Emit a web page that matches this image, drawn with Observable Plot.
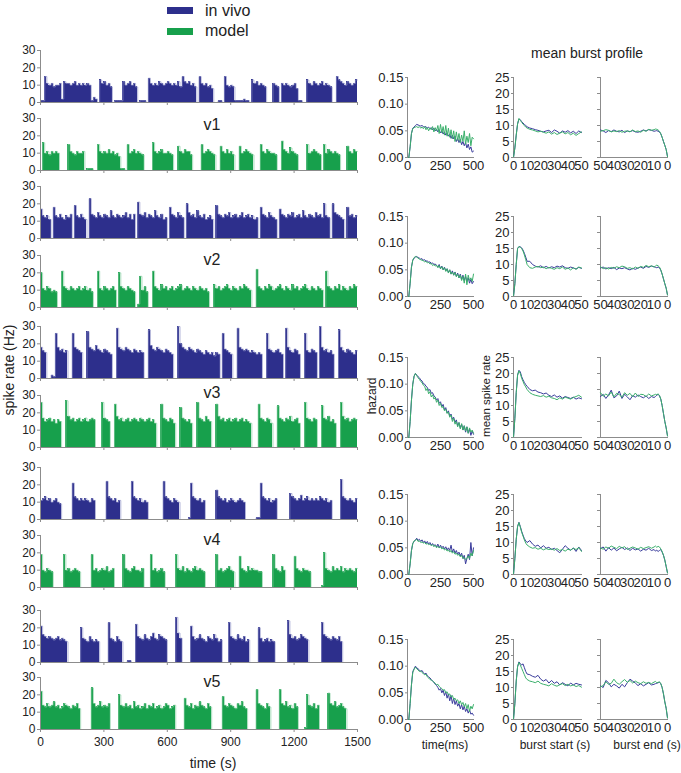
<!DOCTYPE html>
<html><head><meta charset="utf-8">
<script src="https://cdn.jsdelivr.net/npm/d3@7"></script>
<script src="https://cdn.jsdelivr.net/npm/@observablehq/plot@0.6"></script>
<style>
body{margin:0;background:#fff;}
#fig{position:relative;width:681px;height:773px;overflow:hidden;font-family:"Liberation Sans",Arial,sans-serif;color:#222;}
#fig svg{position:absolute;}
</style></head><body><div id="fig"></div>
<script>
// ---------- data: spike-rate time series, 10 s bins, 0..1500 s ----------
const BIN = 10;
const vivo1 = [
1,1,15,11,10,11,9,10,10,11, 2,12,11,11,10,11,12,10,11,10, 11,10,11,10,1,3,2,0,13,11,
12,10,11,9,0,1,1,1,1,12, 10,11,12,10,11,9,0,1,1,1, 0,14,11,10,11,10,12,11,10,11,
12,11,10,11,10,12,9,15,12,11, 12,10,11,9,0,15,11,10,11,9, 10,8,0,0,1,1,0,15,10,9,
10,9,1,1,1,1,2,1,1,0, 13,11,12,10,11,10,9,0,0,0, 11,10,9,0,11,10,11,10,9,10,
11,8,1,1,0,0,13,11,10,12, 11,10,11,12,10,11,10,9,0,0, 15,13,12,11,10,12,11,10,11,13];
const model1 = [
0,16,10,11,9,11,10,11,10,0, 0,0,0,15,11,10,9,11,10,10, 11,0,1,1,1,0,0,15,11,10,
11,10,12,10,11,9,10,8,1,1, 0,15,10,11,12,10,11,10,9,0, 0,0,0,16,11,10,11,12,10,10,
11,10,9,0,0,14,11,10,12,11, 11,9,0,0,0,0,15,10,11,12, 11,10,9,0,0,14,11,10,12,10,
11,9,0,0,14,10,11,12,11,10, 9,0,0,0,15,11,10,12,11,10, 10,9,0,0,17,12,11,10,13,11,
10,9,0,0,0,0,15,10,11,12, 11,10,9,0,15,10,12,11,10,11, 10,9,0,0,0,14,11,10,12,11];
const vivo2 = [
17,13,12,13,11,0,18,13,12,14, 12,11,13,12,14,0,19,13,12,14, 12,11,0,23,14,13,12,15,13,12,
14,13,12,16,13,12,14,13,12,13, 15,12,14,11,14,0,21,14,13,15, 12,14,13,12,16,13,12,14,11,12,
0,18,14,13,12,15,13,12,0,20, 15,13,14,12,16,13,12,14,11,12, 13,11,0,19,14,13,12,14,13,15,
12,13,14,12,13,15,12,13,14,12, 13,11,12,0,18,14,13,12,15,13, 12,11,0,17,14,13,12,14,13,15,
12,13,14,12,16,13,12,14,13,12, 15,13,14,12,20,13,12,0,20,15, 14,13,12,11,0,18,13,14,12,13];
const model2 = [
20,11,10,12,11,9,10,9,0,0, 21,12,11,10,12,11,10,11,12,10, 11,12,10,11,9,0,0,21,11,10,
12,11,10,11,12,10,0,20,12,11, 10,12,11,10,9,0,2,18,10,12, 9,0,0,21,12,11,10,13,11,12,
10,11,12,10,11,12,13,10,11,12, 11,10,12,11,10,12,11,10,11,9, 0,0,13,11,12,10,11,12,13,11,
10,12,11,10,12,11,13,12,11,10, 0,0,22,12,11,10,12,11,13,12, 10,11,12,13,11,10,12,11,10,13,
11,12,10,11,12,13,11,10,12,11, 10,12,11,10,0,21,12,11,10,12, 11,13,10,12,11,10,12,11,13,12];
const vivo3 = [
18,16,15,0,0,2,1,26,18,16, 17,15,16,0,0,26,18,17,16,15, 0,0,27,18,17,16,19,17,16,15,
17,16,15,14,0,0,29,18,17,16, 18,17,16,15,17,16,15,16,15,0, 0,28,19,17,16,18,17,16,15,17,
16,15,14,0,0,30,20,18,17,16, 18,17,16,15,17,16,15,14,16,15, 14,15,13,15,14,0,26,17,16,15,
14,0,0,29,18,17,16,17,16,15, 16,15,14,15,14,0,0,26,17,16, 15,16,17,15,14,0,29,18,16,15,
17,16,14,0,0,26,16,15,17,16, 15,0,30,18,16,17,15,16,14,0, 0,28,18,16,15,17,16,15,14,16];
const model3 = [
26,17,15,16,17,15,16,14,16,15, 0,0,27,18,16,17,15,16,17,15, 16,17,15,16,17,16,0,0,0,26,
17,16,15,0,0,25,18,16,17,15, 16,17,15,16,17,16,15,17,16,15, 16,17,15,16,14,0,0,25,17,16,
15,17,16,14,0,0,23,17,16,15, 16,14,0,0,26,17,16,15,18,16, 15,0,0,25,18,16,17,15,16,17,
15,16,17,15,16,17,15,16,15,14, 0,0,0,25,17,16,15,17,16,14, 0,0,24,17,16,15,17,16,18,15,
16,17,14,0,0,26,17,16,15,17, 16,0,0,24,17,16,18,15,16,14, 0,0,26,18,16,17,15,16,17,16];
const vivo4 = [
11,12,13,11,12,10,11,12,10,9, 0,0,0,0,0,21,13,12,11,12, 11,12,11,10,12,11,0,0,0,0,
0,22,13,12,11,12,10,11,0,0, 0,0,0,22,13,12,11,12,10,11, 10,0,0,0,0,0,0,0,22,13,
12,11,10,12,11,10,0,0,0,0, 1,21,13,12,11,12,10,11,0,0, 0,0,0,17,13,12,11,12,10,11,
12,11,10,11,12,11,10,0,0,0, 0,0,1,1,21,13,12,11,12,10, 11,12,0,0,0,0,0,0,15,13,
12,11,12,14,11,12,13,11,12,11, 12,11,13,12,11,12,10,11,0,0, 0,0,23,13,12,11,12,11,10,12];
const model4 = [
19,10,9,11,10,9,0,0,0,0, 0,19,10,11,9,10,11,10,9,0, 0,0,0,0,19,10,11,9,10,11,
10,12,9,10,11,0,0,0,0,19, 11,10,9,11,12,10,10,9,11,0, 0,0,19,10,11,9,10,11,9,0,
0,0,0,0,19,11,10,12,9,11, 10,9,11,12,10,11,10,9,0,0, 0,0,0,19,10,11,9,10,11,12,
10,9,0,0,18,11,10,9,12,10, 11,10,10,9,9,0,0,0,0,0, 19,11,10,9,12,10,0,0,0,0,
18,11,10,9,11,10,10,9,0,0, 0,0,0,1,20,11,10,9,12,10, 11,10,12,9,11,10,11,10,9,11];
const vivo5 = [
21,16,15,14,15,14,13,14,15,13, 14,13,12,0,0,0,0,0,0,20, 14,13,12,15,13,12,13,12,0,0,
0,0,23,14,13,12,15,13,12,0, 0,1,1,0,0,22,15,14,13,16, 14,13,15,17,14,13,16,15,14,13,
0,0,0,0,26,17,14,0,0,0, 0,21,15,13,14,16,14,13,12,15, 14,13,16,14,12,13,0,0,0,23,
15,14,13,16,14,13,15,12,13,0, 0,0,0,20,14,12,13,14,12,13, 12,0,0,0,0,0,0,24,16,14,
15,13,14,16,15,14,13,0,0,0, 0,0,0,23,16,15,14,13,15,14, 13,15,12,0,0,0,0,0,0,0];
const model5 = [
22,14,13,15,13,14,16,13,14,12, 13,15,14,13,12,14,13,15,12,0, 0,0,0,0,24,15,13,14,16,13,
14,13,15,0,0,0,0,20,14,13, 15,13,14,12,16,13,14,12,13,15, 12,14,13,15,12,13,14,12,13,15,
14,12,13,14,0,0,0,0,18,14, 13,15,12,14,13,16,14,13,12,15, 13,0,0,0,0,0,19,14,13,15,
14,13,12,15,14,16,13,12,0,0, 0,0,23,15,14,13,12,15,13,0, 0,0,0,23,15,14,16,13,14,12,
15,13,0,0,0,1,20,14,13,15, 12,14,0,0,0,0,21,15,14,16, 13,14,15,13,12,0,0,0,0,0];

// ---------- hazard (per 10 ms, 0..500 ms) ----------
const hazTime = [0,10,20,30,40,50,60,70,80,90,100,110,120,130,140,150,160,170,180,190,200,210,220,230,240,250,260,270,280,290,300,310,320,330,340,350,360,370,380,390,400,410,420,430,440,450,460,470,480,490,500];
const hazVivo1 = [0,0,0.02,0.045,0.055,0.057,0.06,0.062,0.061,0.06, 0.059,0.06,0.058,0.057,0.058,0.055,0.057,0.054,0.056,0.052, 0.055,0.05,0.053,0.048,0.052,0.046,0.05,0.044,0.048,0.042, 0.046,0.04,0.044,0.036,0.042,0.035,0.04,0.03,0.036,0.028, 0.034,0.024,0.03,0.022,0.028,0.018,0.025,0.015,0.02,0.01, 0.012];
const hazModel1 = [0,0,0.02,0.045,0.054,0.056,0.057,0.058,0.056,0.058, 0.055,0.057,0.054,0.058,0.052,0.056,0.05,0.055,0.052,0.058, 0.048,0.056,0.05,0.06,0.045,0.062,0.046,0.058,0.042,0.06, 0.04,0.055,0.038,0.052,0.035,0.05,0.03,0.048,0.032,0.045, 0.028,0.042,0.03,0.05,0.025,0.04,0.028,0.045,0.022,0.038, 0.035];
const hazVivo2 = [0,0,0.025,0.055,0.068,0.072,0.074,0.075,0.073,0.072, 0.07,0.071,0.068,0.069,0.066,0.067,0.064,0.065,0.062,0.063, 0.06,0.061,0.058,0.055,0.06,0.052,0.057,0.05,0.055,0.048, 0.052,0.045,0.05,0.042,0.048,0.04,0.046,0.038,0.044,0.035, 0.042,0.032,0.04,0.03,0.038,0.028,0.035,0.025,0.032,0.024, 0.028];
const hazModel2 = [0,0,0.025,0.055,0.068,0.073,0.075,0.074,0.072,0.07, 0.069,0.068,0.067,0.065,0.066,0.063,0.064,0.061,0.062,0.058, 0.06,0.057,0.059,0.054,0.058,0.052,0.056,0.05,0.054,0.047, 0.052,0.044,0.05,0.042,0.046,0.04,0.045,0.037,0.042,0.035, 0.04,0.03,0.038,0.025,0.042,0.022,0.04,0.03,0.035,0.028, 0.042];
const hazVivo3 = [0,0,0.03,0.07,0.1,0.115,0.12,0.117,0.114,0.112, 0.108,0.106,0.101,0.1,0.096,0.094,0.088,0.09,0.083,0.084, 0.078,0.076,0.07,0.073,0.064,0.067,0.058,0.062,0.052,0.056, 0.046,0.05,0.04,0.044,0.034,0.038,0.028,0.033,0.022,0.028, 0.018,0.025,0.014,0.022,0.01,0.02,0.008,0.016,0.004,0.012, 0.006];
const hazModel3 = [0,0,0.03,0.07,0.1,0.115,0.12,0.116,0.112,0.109, 0.105,0.103,0.098,0.096,0.088,0.092,0.082,0.086,0.076,0.08, 0.072,0.075,0.066,0.07,0.06,0.064,0.056,0.058,0.05,0.053, 0.045,0.048,0.038,0.042,0.03,0.036,0.025,0.03,0.02,0.028, 0.016,0.026,0.014,0.022,0.012,0.02,0.008,0.018,0.01,0.014, 0.008];
const hazVivo4 = [0,0,0.02,0.045,0.058,0.062,0.065,0.068,0.064,0.066, 0.062,0.065,0.06,0.063,0.058,0.062,0.057,0.06,0.055,0.058, 0.054,0.056,0.052,0.057,0.05,0.055,0.05,0.053,0.048,0.052, 0.046,0.05,0.045,0.055,0.042,0.048,0.04,0.045,0.038,0.042, 0.035,0.04,0.03,0.036,0.02,0.03,0.038,0.028,0.06,0.035, 0.05];
const hazModel4 = [0,0,0.02,0.045,0.058,0.063,0.064,0.066,0.062,0.063, 0.06,0.061,0.059,0.06,0.057,0.058,0.056,0.057,0.054,0.056, 0.052,0.055,0.05,0.053,0.05,0.052,0.048,0.05,0.046,0.048, 0.044,0.046,0.042,0.045,0.04,0.043,0.038,0.04,0.036,0.038, 0.033,0.036,0.03,0.032,0.028,0.03,0.035,0.03,0.04,0.035, 0.045];
const hazVivo5 = [0,0,0.03,0.065,0.09,0.095,0.1,0.097,0.095,0.093, 0.09,0.092,0.088,0.085,0.087,0.082,0.08,0.078,0.075,0.072, 0.07,0.066,0.064,0.06,0.055,0.058,0.05,0.055,0.045,0.052, 0.04,0.048,0.035,0.045,0.03,0.04,0.028,0.035,0.025,0.03, 0.02,0.028,0.018,0.025,0.015,0.02,0.012,0.018,0.01,0.012, 0.008];
const hazModel5 = [0,0,0.03,0.065,0.088,0.094,0.098,0.095,0.093,0.09, 0.091,0.088,0.086,0.084,0.085,0.08,0.078,0.075,0.074,0.072, 0.07,0.068,0.065,0.066,0.062,0.06,0.058,0.055,0.056,0.05, 0.052,0.046,0.048,0.042,0.045,0.038,0.04,0.035,0.037,0.03, 0.035,0.028,0.032,0.024,0.03,0.02,0.028,0.015,0.025,0.02, 0.028];

// ---------- mean burst profile (s from burst start / before burst end) ----------
const profTime = [0,1,2,3,4,5,6,7,8,9,10,12,14,16,18,20,22,24,26,28,30,32,34,36,38,40,42,44,46,48,50];
const startVivo1 = [0,3,7,10.5,12,11.8,11.2,10.8,10.3,10,9.6, 9.2,9,8.7,8.5,8.2,8,8.3,8.5,7.8,8.6,8.2,7.6,8.3,7.9,8.4,7.7,8.2,7.5,8.3,7.8];
const startModel1 = [0,3,7,10.5,12.2,11.6,11,10.4,10,9.5,9.2, 8.8,8.6,8.3,8,8.2,7.9,7.6,8,7.3,7.8,7.2,7.6,8,7.4,7.8,7.1,7.6,6.9,7.5,8];
const endVivo1 = [0.3,2.5,3.8,5,6.3,7.4,8,8.2,8.4,8.3,8.2, 8.5,8.7,8.3,8.6,8.2,7.9,8,8.4,8.1,8.3,7.8,8.5,8,8.2,8.6,8.1,8.4,7.8,8.3,8.6];
const endModel1 = [0.3,2.5,3.8,5,6.3,7.4,8.2,8.6,8.8,8.9,8.7, 8.5,8.8,8.2,8.5,7.9,8.3,8.1,8.6,8,8.3,8.2,7.9,8.4,8.1,8.3,8,8.5,8.7,8.4,8.2];
const startVivo2 = [0,4,10,15,15.6,15.5,15.2,14.5,13.5,12.3,11, 11,10,9.5,9.2,9.6,9,9.4,8.9,9.3,9,9.5,9.2,9.6,9,8.8,9.2,8.9,8.6,9.1,8.8];
const startModel2 = [0,4,10,15,15.6,15.4,15,14.2,13,11.5,10, 9,8.8,9.2,9.4,9,9.2,8.7,9.1,8.8,8.5,9,8.7,9.2,8.5,8.9,8.3,9,8.5,9.2,8.9];
const endVivo2 = [0.5,2.6,4,5.5,7,8.2,9,9.2,9,9.1,9.3, 9.5,9.1,9.4,8.8,9.2,8.9,8.5,8.8,8.3,8.6,9,8.7,8.9,8.4,9.1,8.7,9,8.6,9.2,8.9];
const endModel2 = [0.5,2.6,4,5.5,7,8.3,9.2,9.6,9.8,9.5,9.2, 9.6,9.3,9.7,9.1,9.4,8.8,9.2,8.6,9,8.8,9.3,9.5,9,9.3,8.8,9.1,8.6,9,8.7,9.3];
const startVivo3 = [0,6,14,19.5,21,20.5,19,18,17.2,16.5,16, 15,14.6,14.8,14.2,14,13.6,13.9,13.2,12.8,13.3,12.6,13,12.3,12.8,12.5,12.2,12.6,12,12.4,12.1];
const startModel3 = [0,6,14,19.5,20.8,20,18.5,17.5,16.5,15.8,15, 14,13.5,13.2,13,12.8,13.1,12.6,12.9,12.4,12.2,11.8,12.4,12,12.6,12.3,12,12.5,12.8,13.2,12.6];
const endVivo3 = [0.5,3,5,7.5,10,12,13,13.5,13.2,12.8,12.5, 12.8,12.2,13,12.4,12.8,13.3,12.6,13.1,11.8,12.7,13.5,12.2,14.5,13,12.4,14.8,13.3,12.2,13.5,12.8];
const endModel3 = [0.5,3,5,7.5,10,12,13.2,13.6,13.4,13.5,13.3, 13,13.6,12.8,13.4,13.5,12.8,13.9,12.7,13.8,13.2,14,12.6,13.4,13.8,12.7,14.2,13,13.6,12.9,14];
const startVivo4 = [0,5,11,15,16.3,15,13.5,12.3,11.2,10.5,10, 10.6,9.5,8.8,9.2,8.3,9,8.2,8.5,7.8,8.2,7.5,6.8,7.9,9,8.2,7.6,8.3,7.2,8.6,7.5];
const startModel4 = [0,5,11,15,16.2,14.8,13.2,12,10.8,9.8,9.2, 8.6,8.2,8.4,7.9,8.2,7.7,8.1,7.8,8,7.6,8.1,7.5,7.8,7.3,7.9,7.6,8.2,7.8,8.4,7.2];
const endVivo4 = [0.5,2.5,4.5,6,7,7.8,7.5,7.2,7.6,7.3,7.8, 7.5,8.2,7.6,7.9,7.3,8,7.7,8.2,7.5,8.3,7.8,8.5,8,7.4,8.3,7.6,8.4,7.3,8.6,8.1];
const endModel4 = [0.5,2.5,4.5,6,7.2,8,8.6,8.8,8.5,8.9,8.6, 8.2,8.7,8.4,8.1,8.5,7.9,8.3,8.6,8.2,7.8,8.7,8.3,8.8,8.1,8.5,8.9,8.2,8.6,7.9,8.3];
const startVivo5 = [0,5,12,16.5,18,17.5,17,17.4,16.2,15,14.2, 14,13.5,13.2,13.8,12.6,12,12.5,11.4,12.2,11.3,11.8,10.8,11.5,11,10.5,11.4,10.8,11.3,11,10.8];
const startModel5 = [0,5,12,16.5,17.8,17,16,15,14,13,12.5, 12,11.8,11.5,12,11.3,11,10.8,10.5,11.2,10.7,10.4,10.9,11.2,10.6,11,10.5,10.8,10.3,10.6,10.1];
const endVivo5 = [0.5,3.5,5.5,8,10,11.2,11.6,11.5,11.3,11.2,11, 10.8,11.5,11,10.5,11.2,10.6,11.4,12,12.6,11.5,10.2,11,9.8,10.5,11,10.2,11.5,12.2,10,10.5];
const endModel5 = [0.5,3.5,5.5,8,10,11.2,11.8,11.6,11.5,11.9,11.7, 11.2,11.6,11.3,11.8,11.2,11.5,12,11.4,12.2,11.6,12.5,11.8,11,11.5,12.6,11.3,11,11.8,10.6,10.2];

const versionLabels = ["v1","v2","v3","v4","v5"];
const rateTicks = [0,10,20,30];
const timeTicks = [0,300,600,900,1200,1500];
const hazTicks = [0,0.05,0.10,0.15];
const hazXTicks = [0,250,500];
const profYTicks = [0,5,10,15,20,25];
const profXTicks = [0,10,20,30,40,50];

// ---------- styling / layout ----------
const BLUE = "#2d2f8c", GREEN = "#17a04c", BLUE_EDGE = "#8e90c6", GREEN_EDGE = "#7fcc9c";
const LBLUE = "#3a3c9c", LGREEN = "#3bb06c", AX = "#8c8c8c";
const fig = document.getElementById("fig");
const FONT = '"Liberation Sans", Arial, sans-serif';
function place(node, left, top) { node.style.left = left + "px"; node.style.top = top + "px"; fig.appendChild(node); }
function style(fs) { return {fontFamily: FONT, fontSize: fs + "px", color: "#222", background: "none", overflow: "visible"}; }

const rateTops = [50,118,186,255,326,395,467,535,610,677];
function ratePanel(vals, color, edge, top, bottom) {
  const data = vals.map((v, i) => ({t0: i * BIN, t1: (i + 1) * BIN, v}));
  const stepPts = vals.map((v, i) => ({t: i * BIN, v})).concat([{t: vals.length * BIN, v: vals[vals.length - 1]}]);
  const mt = 4, h = 52, mb = bottom ? 24 : 6;
  const svg = Plot.plot({
    width: 362, height: mt + h + mb, marginLeft: 40, marginRight: 5, marginTop: mt, marginBottom: mb,
    style: style(12),
    x: {domain: [0, 1500], label: null}, y: {domain: [0, 30], label: null},
    marks: [
      Plot.rectY(data, {x1: "t0", x2: "t1", y: "v", fill: color, shapeRendering: "crispEdges"}),
      Plot.line(stepPts, {x: "t", y: "v", curve: "step-after", stroke: edge, strokeWidth: 0.7}),
      Plot.ruleY([0], {stroke: AX}),
      Plot.ruleX([0], {stroke: AX}),
      Plot.axisY({ticks: rateTicks, tickSize: 3, tickPadding: 2, stroke: AX, label: null}),
      Plot.axisX({ticks: timeTicks, tickSize: 3, tickPadding: 5, stroke: AX, label: null,
                  tickFormat: bottom ? (d => String(d)) : (() => "")})
    ]
  });
  place(svg, 0, top - mt);
}
const vivo = [vivo1, vivo2, vivo3, vivo4, vivo5];
const model = [model1, model2, model3, model4, model5];
for (let k = 0; k < 5; k++) {
  ratePanel(vivo[k], BLUE, BLUE_EDGE, rateTops[2 * k], false);
  ratePanel(model[k], GREEN, GREEN_EDGE, rateTops[2 * k + 1], k === 4);
}

const rowTops = [77, 216, 357, 494, 639];
const H = 80;
function hazPanel(bl, gr, top) {
  const mt = 6, mb = 20;
  const svg = Plot.plot({
    width: 120, height: mt + H + mb, marginLeft: 40, marginRight: 14, marginTop: mt, marginBottom: mb,
    style: style(13),
    x: {domain: [0, 500], label: null}, y: {domain: [0, 0.15], label: null},
    marks: [
      Plot.ruleY([0], {stroke: AX}), Plot.ruleX([0], {stroke: AX}),
      Plot.line(bl.map((v, i) => ({t: hazTime[i], v})), {x: "t", y: "v", stroke: LBLUE, strokeWidth: 1}),
      Plot.line(gr.map((v, i) => ({t: hazTime[i], v})), {x: "t", y: "v", stroke: LGREEN, strokeWidth: 1}),
      Plot.axisY({ticks: hazTicks, tickFormat: d3.format(".2f"), tickSize: 2, tickPadding: 2, stroke: AX, label: null}),
      Plot.axisX({ticks: hazXTicks, tickSize: 1, tickPadding: 2, stroke: AX, label: null})
    ]
  });
  place(svg, 407 - 40, top - mt);
}
function startPanel(bl, gr, top) {
  const mt = 6, mb = 20;
  const svg = Plot.plot({
    width: 116, height: mt + H + mb, marginLeft: 36, marginRight: 12, marginTop: mt, marginBottom: mb,
    style: style(13),
    x: {domain: [0, 50], label: null}, y: {domain: [0, 25], label: null},
    marks: [
      Plot.ruleY([0], {stroke: AX}), Plot.ruleX([0], {stroke: AX}),
      Plot.line(bl.map((v, i) => ({t: profTime[i], v})), {x: "t", y: "v", stroke: LBLUE, strokeWidth: 1}),
      Plot.line(gr.map((v, i) => ({t: profTime[i], v})), {x: "t", y: "v", stroke: LGREEN, strokeWidth: 1}),
      Plot.axisY({ticks: profYTicks, tickSize: 2, tickPadding: 2, stroke: AX, label: null}),
      Plot.axisX({ticks: profXTicks, tickSize: 1, tickPadding: 2, stroke: AX, label: null})
    ]
  });
  place(svg, 513 - 36, top - mt);
}
function endPanel(bl, gr, top) {
  const mt = 6, mb = 20;
  const svg = Plot.plot({
    width: 87, height: mt + H + mb, marginLeft: 10, marginRight: 10, marginTop: mt, marginBottom: mb,
    style: style(13),
    x: {domain: [50, 0], label: null}, y: {domain: [0, 25], label: null},
    marks: [
      Plot.ruleY([0], {stroke: AX}), Plot.ruleX([50], {stroke: AX}),
      Plot.line(bl.map((v, i) => ({t: profTime[i], v})), {x: "t", y: "v", stroke: LBLUE, strokeWidth: 1}),
      Plot.line(gr.map((v, i) => ({t: profTime[i], v})), {x: "t", y: "v", stroke: LGREEN, strokeWidth: 1}),
      Plot.axisY({ticks: profYTicks, tickSize: 3, tickFormat: () => "", stroke: AX, label: null}),
      Plot.axisX({ticks: profXTicks, tickSize: 1, tickPadding: 2, stroke: AX, label: null})
    ]
  });
  place(svg, 600 - 10, top - mt);
}
const hazV = [hazVivo1, hazVivo2, hazVivo3, hazVivo4, hazVivo5];
const hazM = [hazModel1, hazModel2, hazModel3, hazModel4, hazModel5];
const stV = [startVivo1, startVivo2, startVivo3, startVivo4, startVivo5];
const stM = [startModel1, startModel2, startModel3, startModel4, startModel5];
const enV = [endVivo1, endVivo2, endVivo3, endVivo4, endVivo5];
const enM = [endModel1, endModel2, endModel3, endModel4, endModel5];
for (let k = 0; k < 5; k++) {
  hazPanel(hazV[k], hazM[k], rowTops[k]);
  startPanel(stV[k], stM[k], rowTops[k]);
  endPanel(enV[k], enM[k], rowTops[k]);
}

// ---------- text overlay & legend ----------
const ov = d3.create("svg").attr("width", 681).attr("height", 773)
  .style("left", "0px").style("top", "0px").style("font-family", FONT).attr("fill", "#222");
ov.append("rect").attr("x", 167).attr("y", 7).attr("width", 26).attr("height", 7).attr("fill", BLUE);
ov.append("rect").attr("x", 167).attr("y", 28).attr("width", 26).attr("height", 7).attr("fill", GREEN);
ov.append("text").attr("x", 205).attr("y", 16).attr("font-size", 16).text("in vivo");
ov.append("text").attr("x", 205).attr("y", 36).attr("font-size", 16).text("model");
const vBase = [130, 265, 398, 545, 687];
versionLabels.forEach((s, k) => ov.append("text").attr("x", 212).attr("y", vBase[k]).attr("font-size", 16).attr("text-anchor", "middle").text(s));
ov.append("text").attr("x", 213).attr("y", 768).attr("font-size", 14).attr("text-anchor", "middle").text("time (s)");
ov.append("text").attr("transform", "translate(14,370) rotate(-90)").attr("font-size", 14).attr("text-anchor", "middle").text("spike rate (Hz)");
ov.append("text").attr("transform", "translate(376,396) rotate(-90)").attr("font-size", 12).attr("text-anchor", "middle").text("hazard");
ov.append("text").attr("transform", "translate(490,396) rotate(-90)").attr("font-size", 11.5).attr("text-anchor", "middle").text("mean spike rate");
ov.append("text").attr("x", 587).attr("y", 58).attr("font-size", 14).attr("text-anchor", "middle").text("mean burst profile");
ov.append("text").attr("x", 445).attr("y", 749).attr("font-size", 12).attr("text-anchor", "middle").text("time(ms)");
ov.append("text").attr("x", 555).attr("y", 749).attr("font-size", 12).attr("text-anchor", "middle").text("burst start (s)");
ov.append("text").attr("x", 647).attr("y", 749).attr("font-size", 12).attr("text-anchor", "middle").text("burst end (s)");
fig.appendChild(ov.node());
</script></body></html>
